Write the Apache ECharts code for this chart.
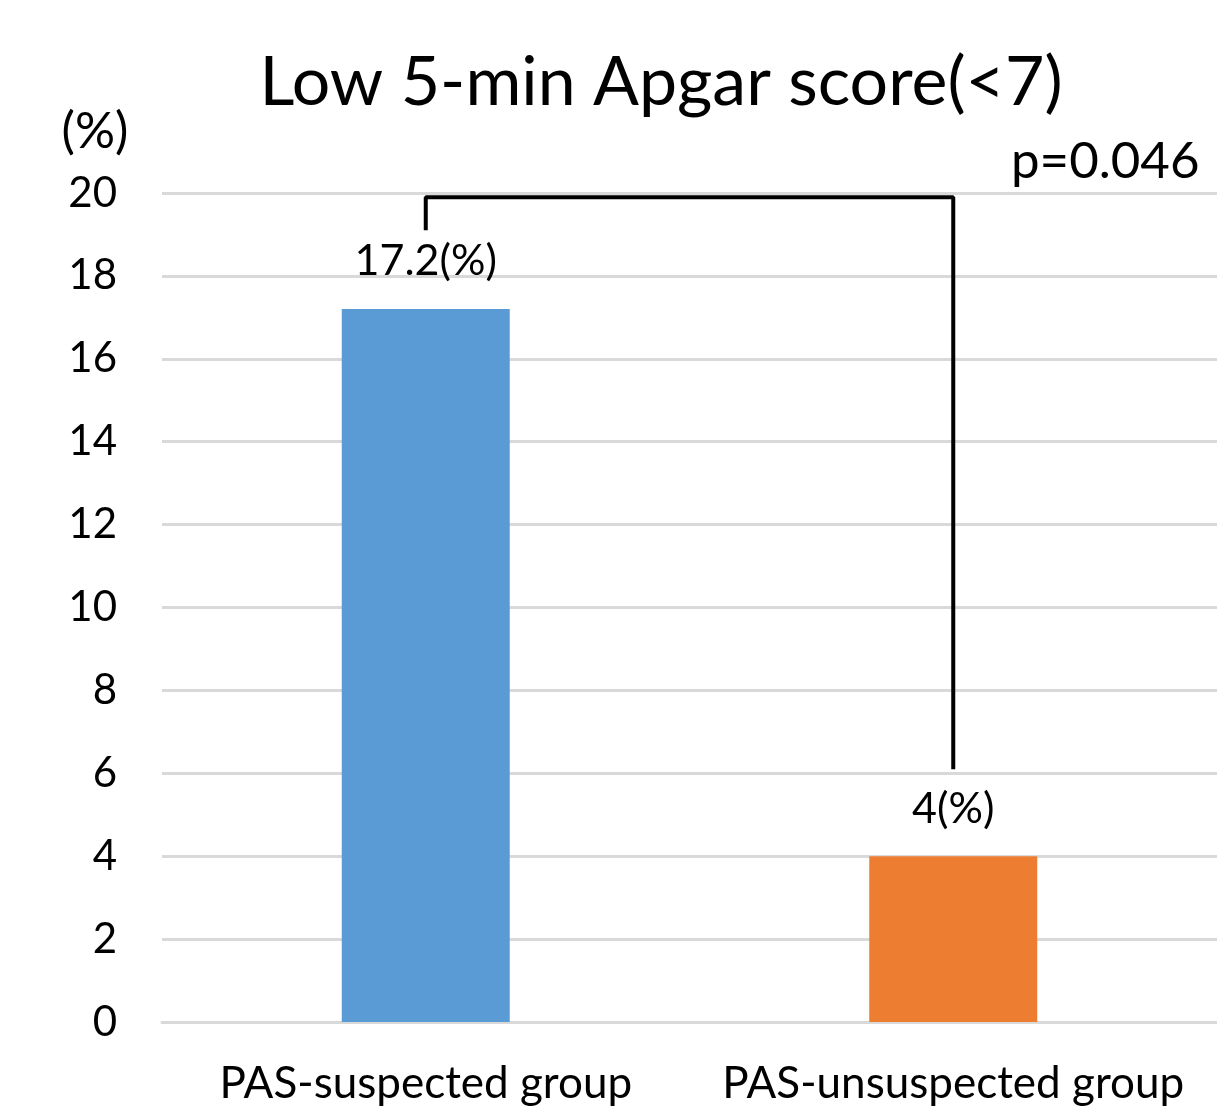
<!DOCTYPE html>
<html>
<head>
<meta charset="utf-8">
<script src="https://cdn.jsdelivr.net/npm/echarts@6/dist/echarts.min.js"></script>
<style>html,body{margin:0;padding:0;background:#fff;}#c{width:1217px;height:1106px;}</style>
</head>
<body>
<div id="c"></div>
<script>
const categories = ['PAS-suspected group', 'PAS-unsuspected group'];
const values = [17.2, 4];
const valueLabels = ['17.2(%)', '4(%)'];
const barColors = ['#5B9BD5', '#ED7D31'];
const yTicks = { min: 0, max: 20, interval: 2 };
const bracket = [
  ['PAS-suspected group', 19.1],
  ['PAS-suspected group', 19.9],
  ['PAS-unsuspected group', 19.9],
  ['PAS-unsuspected group', 6.1]
];
const titleText = 'Low 5-min Apgar score(<7)';
const pText = 'p=0.046';
const font = 'Lato, "Open Sans", sans-serif';

const chart = echarts.init(document.getElementById('c'));
chart.setOption({
  animation: false,
  backgroundColor: '#fff',
  title: {
    text: titleText,
    left: 656, top: 44, textAlign: 'center',
    textStyle: { fontFamily: font, fontSize: 68, fontWeight: 'normal', color: '#000' }
  },
  graphic: [{
    type: 'text', left: 1011, top: 136,
    style: { text: pText, font: '51px ' + font, fill: '#000' }
  }],
  grid: { left: 162, right: 0, top: 193, bottom: 80, containLabel: false },
  xAxis: {
    type: 'category', data: categories,
    axisLine: { lineStyle: { color: '#d9d9d9', width: 3 } },
    axisTick: { show: false },
    axisLabel: { fontFamily: font, fontSize: 44, color: '#000', margin: 40, interval: 0 }
  },
  yAxis: {
    type: 'value', min: yTicks.min, max: yTicks.max, interval: yTicks.interval,
    name: '(%)', nameLocation: 'end', nameGap: 36,
    nameTextStyle: { fontFamily: font, fontSize: 50, color: '#000', align: 'center', padding: [0, 0, 0, -134] },
    axisLine: { show: false }, axisTick: { show: false },
    axisLabel: { fontFamily: font, fontSize: 42, color: '#000', margin: 45 },
    splitLine: { lineStyle: { color: '#d9d9d9', width: 3 } }
  },
  series: [{
    type: 'bar', barWidth: 168,
    data: values.map((v, i) => ({ value: v, itemStyle: { color: barColors[i] } })),
    label: {
      show: true, position: 'top', distance: 26,
      fontFamily: font, fontSize: 43, color: '#000',
      formatter: p => valueLabels[p.dataIndex]
    }
  }, {
    type: 'line', data: bracket, symbol: 'none',
    lineStyle: { color: '#000', width: 4 }, z: 5
  }]
});
</script>
</body>
</html>
